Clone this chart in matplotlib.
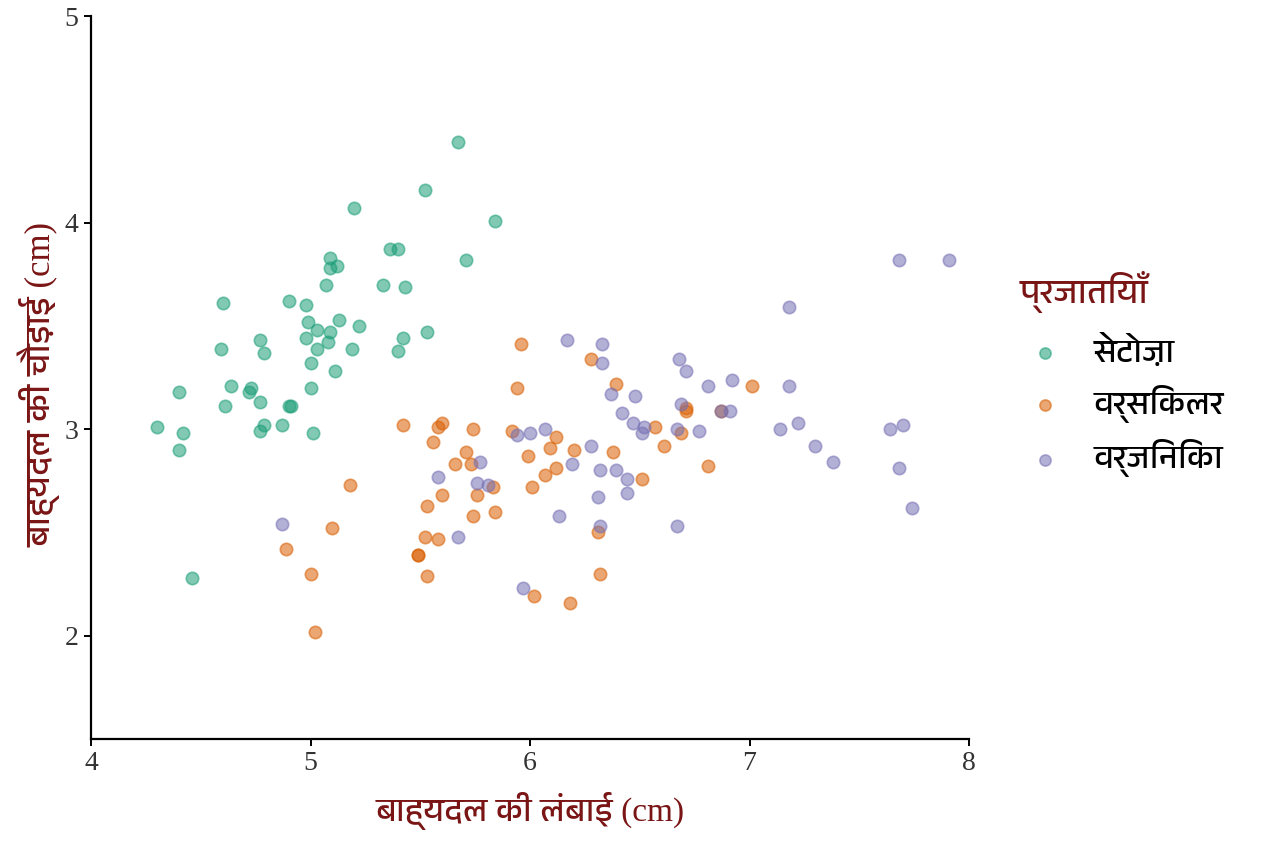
import matplotlib
matplotlib.use("Agg")
import matplotlib.pyplot as plt
from matplotlib import font_manager
from matplotlib.ft2font import FT2Font

# ---------------- data ----------------
species = ["सेटोज़ा", "वर्सिकलर", "वर्जिनिका"]
colors = ["#1B9E77", "#D95F02", "#7570B3"]

setosa_x = [4.30, 4.40, 4.42, 4.40, 4.46, 4.59, 4.60, 4.61, 4.64, 4.72,
            4.73, 4.77, 4.79, 4.77, 4.77, 4.79, 4.87, 4.90, 4.90, 4.91,
            4.98, 4.99, 4.98, 5.00, 5.01, 5.03, 5.03, 5.00, 5.07, 5.08,
            5.09, 5.09, 5.12, 5.09, 5.13, 5.11, 5.19, 5.20, 5.22, 5.33,
            5.36, 5.40, 5.40, 5.42, 5.43, 5.52, 5.53, 5.67, 5.71, 5.84]
setosa_y = [3.01, 3.18, 2.98, 2.90, 2.28, 3.39, 3.61, 3.11, 3.21, 3.18,
            3.20, 3.43, 3.37, 3.13, 2.99, 3.02, 3.02, 3.62, 3.11, 3.11,
            3.60, 3.52, 3.44, 3.20, 2.98, 3.48, 3.39, 3.32, 3.70, 3.42,
            3.83, 3.78, 3.79, 3.47, 3.53, 3.28, 3.39, 4.07, 3.50, 3.70,
            3.87, 3.87, 3.38, 3.44, 3.69, 4.16, 3.47, 4.39, 3.82, 4.01]

versicolor_x = [5.96, 6.28, 5.94, 6.39, 7.01, 6.71, 6.71, 6.87, 5.42, 5.58,
                5.60, 5.74, 5.92, 6.12, 6.57, 6.69, 5.56, 5.71, 6.09, 6.20,
                5.99, 6.38, 6.61, 5.66, 5.73, 6.12, 6.07, 6.81, 5.83, 5.76,
                6.01, 6.51, 5.60, 5.53, 5.84, 5.74, 5.52, 5.58, 5.49, 5.49,
                6.31, 5.53, 6.32, 6.02, 6.18, 5.18, 5.10, 4.89, 5.00, 5.02]
versicolor_y = [3.41, 3.34, 3.20, 3.22, 3.21, 3.10, 3.09, 3.09, 3.02, 3.01,
                3.03, 3.00, 2.99, 2.96, 3.01, 2.98, 2.94, 2.89, 2.91, 2.90,
                2.87, 2.89, 2.92, 2.83, 2.83, 2.81, 2.78, 2.82, 2.72, 2.68,
                2.72, 2.76, 2.68, 2.63, 2.60, 2.58, 2.48, 2.47, 2.39, 2.39,
                2.50, 2.29, 2.30, 2.19, 2.16, 2.73, 2.52, 2.42, 2.30, 2.02]

virginica_x = [6.17, 6.33, 6.33, 6.68, 6.71, 6.81, 6.92, 6.37, 6.48, 6.69,
               6.87, 6.91, 6.42, 6.47, 6.52, 6.51, 6.67, 6.77, 5.94, 6.00,
               6.07, 6.28, 6.19, 6.32, 6.39, 6.44, 5.77, 5.58, 5.76, 5.81,
               6.31, 6.44, 6.13, 6.32, 6.67, 5.67, 5.97, 4.87, 7.18, 7.18,
               7.22, 7.14, 7.30, 7.38, 7.64, 7.70, 7.68, 7.74, 7.68, 7.91]
virginica_y = [3.43, 3.41, 3.32, 3.34, 3.28, 3.21, 3.24, 3.17, 3.16, 3.12,
               3.09, 3.09, 3.08, 3.03, 3.01, 2.98, 3.00, 2.99, 2.97, 2.98,
               3.00, 2.92, 2.83, 2.80, 2.80, 2.76, 2.84, 2.77, 2.74, 2.73,
               2.67, 2.69, 2.58, 2.53, 2.53, 2.48, 2.23, 2.54, 3.59, 3.21,
               3.03, 3.00, 2.92, 2.84, 3.00, 3.02, 2.81, 2.62, 3.82, 3.82]

x_ticks = [4, 5, 6, 7, 8]
y_ticks = [2, 3, 4, 5]
x_label = "बाह्यदल की लंबाई (cm)"
y_label = "बाह्यदल की चौड़ाई (cm)"
legend_title = "प्रजातियाँ"

# ---------------- fonts ----------------
def find_deva_fonts():
    sans, serif = [], []
    seen = set()
    for f in font_manager.fontManager.ttflist:
        if f.name in seen:
            continue
        try:
            cmap = FT2Font(f.fname).get_charmap()
        except Exception:
            continue
        if 0x0915 in cmap:
            seen.add(f.name)
            if "serif" in f.name.lower() and "sans" not in f.name.lower():
                serif.append(f.name)
            else:
                sans.append(f.name)
    sans.sort(key=lambda n: (0 if "Devanagari" in n else 1, n))
    return sans + serif

deva = find_deva_fonts()
sans_family = deva + ["Noto Sans", "DejaVu Sans"]
label_family = ["Liberation Serif"] + deva + ["DejaVu Sans"]

label_color = "#7a1515"

# ---------------- figure ----------------
W, H = 1264, 843
fig = plt.figure(figsize=(W / 100, H / 100), dpi=100)
ax = fig.add_axes([91 / W, (H - 739) / H, 878 / W, (739 - 16) / H])

groups = [(setosa_x, setosa_y), (versicolor_x, versicolor_y), (virginica_x, virginica_y)]
for (gx, gy), name, c in zip(groups, species, colors):
    ax.scatter(gx, gy, s=80, color=c, alpha=0.55, edgecolors=c, linewidths=1.2,
               label=name, zorder=3)

ax.set_xlim(4, 8)
ax.set_ylim(1.5, 5)
ax.set_xticks(x_ticks)
ax.set_yticks(y_ticks)
for s in ["top", "right"]:
    ax.spines[s].set_visible(False)
for s in ["left", "bottom"]:
    ax.spines[s].set_linewidth(1.6)
    ax.spines[s].set_color("black")
ax.tick_params(direction="out", length=5, width=1.4, colors="black",
               labelcolor="#333333", labelsize=20, pad=4)
for lab in ax.get_xticklabels() + ax.get_yticklabels():
    lab.set_family(["Liberation Serif", "DejaVu Serif"])

ax.set_xlabel(x_label, family=label_family, fontsize=24, color=label_color, labelpad=11)
ax.set_ylabel(y_label, family=label_family, fontsize=25, color=label_color)
ax.yaxis.set_label_coords(-30 / 878, 0.49)

# legend title drawn separately for exact placement
fig.text(1020 / W, 1 - 292 / H, legend_title, family=sans_family, fontsize=25,
         color=label_color, ha="left", va="center")
leg = ax.legend(loc="upper left", bbox_to_anchor=(1020 / W, 1 - 334 / H),
                bbox_transform=fig.transFigure, frameon=False,
                prop={"family": sans_family, "size": 24},
                markerscale=0.9, labelspacing=0.5, handlelength=1.5,
                handletextpad=0.7, borderpad=0, borderaxespad=0)

fig.savefig("out.png", dpi=100, facecolor="white")
